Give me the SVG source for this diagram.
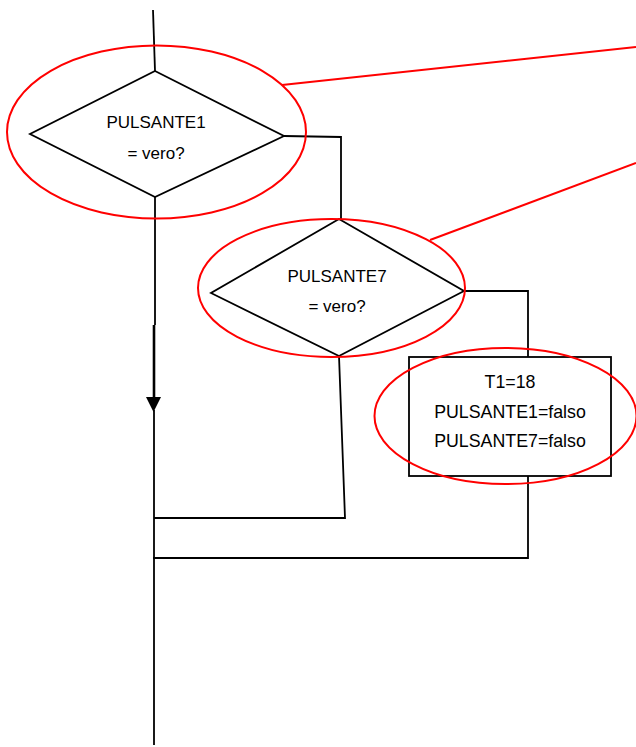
<svg xmlns="http://www.w3.org/2000/svg" width="636" height="747" viewBox="0 0 636 747">
<style>
.ln{fill:none;stroke:#000;stroke-width:1.8}
.nd{fill:#fff;stroke:#000;stroke-width:1.8}
.hl{fill:none;stroke:#f00;stroke-width:2}
.tx{font-family:"Liberation Sans",Arial,sans-serif;font-size:17px;fill:#000;text-anchor:middle}
.tb{font-family:"Liberation Sans",Arial,sans-serif;font-size:17.8px;fill:#000;text-anchor:middle}
</style>
<defs>
<marker id="ah" markerWidth="16" markerHeight="15" refX="8" refY="14" orient="auto" markerUnits="userSpaceOnUse" viewBox="0 0 16 15">
<path d="M0,0 L16,0 L8,15 Z" fill="#000"/>
</marker>
</defs>
<g id="connectors">
<polyline class="ln" points="153,10 155,71"/>
<polyline class="ln" points="155,197 155,325"/>
<line x1="154" y1="325" x2="154" y2="398" stroke="#000" stroke-width="2.6"/>
<path d="M146,397 L161,397 L153.5,412 Z" fill="#000"/>
<polyline class="ln" points="154,410 154,745"/>
<polyline class="ln" points="284,136 341,137 341,219"/>
<polyline class="ln" points="464,291 528,291 528,357"/>
<polyline class="ln" points="339,356 345,518 154,518"/>
<polyline class="ln" points="528,476 528,558 153,558"/>
</g>
<g id="node-pulsante1">
<polygon class="nd" points="155,71 284,136 155,197 30,134"/>
<text class="tx" x="156" y="128">PULSANTE1</text>
<text class="tx" x="156" y="159">= vero?</text>
</g>
<g id="node-pulsante7">
<polygon class="nd" points="339,219 464,291 339,356 211,293"/>
<text class="tx" x="337" y="282">PULSANTE7</text>
<text class="tx" x="337" y="312">= vero?</text>
</g>
<g id="node-azione">
<rect class="nd" x="409" y="357" width="202" height="119"/>
<text class="tb" x="510" y="388">T1=18</text>
<text class="tb" x="510" y="418">PULSANTE1=falso</text>
<text class="tb" x="510" y="447">PULSANTE7=falso</text>
</g>
<g id="highlights">
<ellipse class="hl" cx="156.5" cy="132" rx="149.5" ry="86.5"/>
<ellipse class="hl" cx="331.5" cy="288" rx="133.5" ry="69"/>
<ellipse class="hl" cx="505.5" cy="416" rx="131" ry="68"/>
<line class="hl" x1="282" y1="85" x2="636" y2="47"/>
<line class="hl" x1="430" y1="240" x2="636" y2="163"/>
</g>
</svg>
